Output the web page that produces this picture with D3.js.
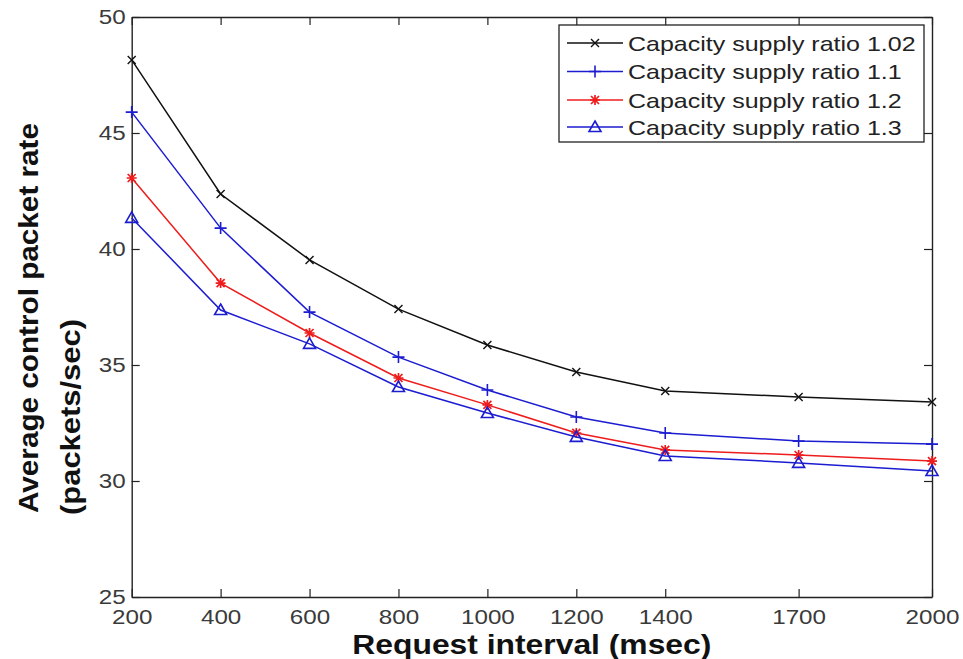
<!DOCTYPE html>
<html><head><meta charset="utf-8">
<script src="https://cdn.jsdelivr.net/npm/d3@7"></script>
<style>
html,body{margin:0;padding:0;background:#fff;}
svg{display:block;font-family:"Liberation Sans",Arial,Helvetica,sans-serif;}
</style></head>
<body>
<svg id="c" width="963" height="659"></svg>
<script>
const intervals = [200, 400, 600, 800, 1000, 1200, 1400, 1700, 2000];
const xTicks = [200, 400, 600, 800, 1000, 1200, 1400, 1700, 2000];
const yTicks = [25, 30, 35, 40, 45, 50];
const seriesNames = ["Capacity supply ratio 1.02", "Capacity supply ratio 1.1", "Capacity supply ratio 1.2", "Capacity supply ratio 1.3"];
const ratio102 = [48.15, 42.37, 39.53, 37.41, 35.86, 34.70, 33.88, 33.62, 33.41];
const ratio110 = [45.90, 40.90, 37.28, 35.34, 33.92, 32.76, 32.07, 31.72, 31.59];
const ratio120 = [43.06, 38.53, 36.38, 34.44, 33.28, 32.07, 31.34, 31.12, 30.86];
const ratio130 = [41.34, 37.37, 35.91, 34.05, 32.93, 31.90, 31.08, 30.78, 30.43];
const seriesColors = ["#111111", "#1c1cd0", "#ee1c1c", "#1c1cd0"];
const seriesMarkers = ["x", "plus", "star", "triangle"];
const allSeries = [ratio102, ratio110, ratio120, ratio130];

const svg = d3.select("#c");
const L = 131.7, R = 932, T = 17, B = 597;
const x = d3.scaleLinear().domain([200, 2000]).range([L, R]);
const y = d3.scaleLinear().domain([25, 50]).range([B, T]);

function stretch(sel, k) {
  sel.each(function () {
    const w = this.getComputedTextLength();
    this.setAttribute("textLength", w * k);
    this.setAttribute("lengthAdjust", "spacingAndGlyphs");
  });
}

// axes
const gx = svg.append("g").attr("transform", `translate(0,${B})`)
  .call(d3.axisBottom(x).tickValues(xTicks).tickSize(-8).tickSizeOuter(0).tickPadding(12).tickFormat(d3.format("d")));
const gy = svg.append("g").attr("transform", `translate(${L},0)`)
  .call(d3.axisLeft(y).tickValues(yTicks).tickSize(-8).tickSizeOuter(0).tickPadding(6).tickFormat(d3.format("d")));
const gt = svg.append("g").attr("transform", `translate(0,${T})`)
  .call(d3.axisTop(x).tickValues(xTicks).tickSize(-8).tickSizeOuter(0).tickFormat(""));
const gr = svg.append("g").attr("transform", `translate(${R},0)`)
  .call(d3.axisRight(y).tickValues(yTicks).tickSize(-8).tickSizeOuter(0).tickFormat(""));
[gx, gy, gt, gr].forEach(g => {
  g.selectAll("line").attr("stroke", "#222").attr("stroke-width", 1.2);
  g.select(".domain").attr("stroke", "#222").attr("stroke-width", 1.4);
  g.selectAll("text").attr("fill", "#3a3a3a").style("font-size", "20.5px")
    .style("font-family", '"Liberation Sans",Arial,sans-serif');
});
stretch(gx.selectAll("text"), 1.18);
stretch(gy.selectAll("text"), 1.18);

// markers
function drawMarker(g, type, cx, cy, color) {
  const s = 5;
  if (type === "x") {
    g.append("path").attr("d", `M${cx - 4},${cy - 4}L${cx + 4},${cy + 4}M${cx - 4},${cy + 4}L${cx + 4},${cy - 4}`)
      .attr("stroke", color).attr("stroke-width", 1.4).attr("fill", "none");
  } else if (type === "plus") {
    g.append("path").attr("d", `M${cx - 6},${cy}L${cx + 6},${cy}M${cx},${cy - 6}L${cx},${cy + 6}`)
      .attr("stroke", color).attr("stroke-width", 1.6).attr("fill", "none");
  } else if (type === "star") {
    g.append("path").attr("d", `M${cx - s},${cy}L${cx + s},${cy}M${cx},${cy - s}L${cx},${cy + s}M${cx - 4},${cy - 4}L${cx + 4},${cy + 4}M${cx - 4},${cy + 4}L${cx + 4},${cy - 4}`)
      .attr("stroke", color).attr("stroke-width", 1.7).attr("fill", "none");
  } else if (type === "triangle") {
    g.append("path").attr("d", `M${cx},${cy - 6}L${cx + 6},${cy + 4.5}L${cx - 6},${cy + 4.5}Z`)
      .attr("stroke", color).attr("stroke-width", 1.6).attr("fill", "none");
  }
}

const line = d3.line().x((d, i) => x(intervals[i])).y(d => y(d));
allSeries.forEach((vals, si) => {
  const g = svg.append("g");
  g.append("path").datum(vals).attr("d", line).attr("fill", "none")
    .attr("stroke", seriesColors[si]).attr("stroke-width", 1.5);
  vals.forEach((v, i) => drawMarker(g, seriesMarkers[si], x(intervals[i]), y(v), seriesColors[si]));
});

// legend
const lg = svg.append("g");
lg.append("rect").attr("x", 559).attr("y", 25).attr("width", 365).attr("height", 117)
  .attr("fill", "#fff").attr("stroke", "#222").attr("stroke-width", 1.3);
const legY = [43, 71.5, 100, 127];
seriesNames.forEach((name, i) => {
  lg.append("line").attr("x1", 567).attr("x2", 623).attr("y1", legY[i]).attr("y2", legY[i])
    .attr("stroke", seriesColors[i]).attr("stroke-width", 1.5);
  drawMarker(lg, seriesMarkers[i], 595, legY[i], seriesColors[i]);
  lg.append("text").attr("x", 628).attr("y", legY[i]).attr("dy", "0.36em")
    .attr("fill", "#222").style("font-size", "21px").text(name);
});
stretch(lg.selectAll("text"), 1.19);

// axis titles
svg.append("text").attr("x", (L + R) / 2).attr("y", 654).attr("text-anchor", "middle")
  .attr("fill", "#111").style("font-size", "27px").style("font-weight", "bold")
  .attr("textLength", 359).attr("lengthAdjust", "spacingAndGlyphs")
  .text("Request interval (msec)");
svg.append("text").attr("transform", "translate(38,513) rotate(-90)")
  .attr("fill", "#111").style("font-size", "28px").style("font-weight", "bold")
  .attr("textLength", 390).attr("lengthAdjust", "spacingAndGlyphs")
  .text("Average control packet rate");
svg.append("text").attr("transform", "translate(80,515) rotate(-90)")
  .attr("fill", "#111").style("font-size", "28px").style("font-weight", "bold")
  .attr("textLength", 196).attr("lengthAdjust", "spacingAndGlyphs")
  .text("(packets/sec)");
</script>
</body></html>
